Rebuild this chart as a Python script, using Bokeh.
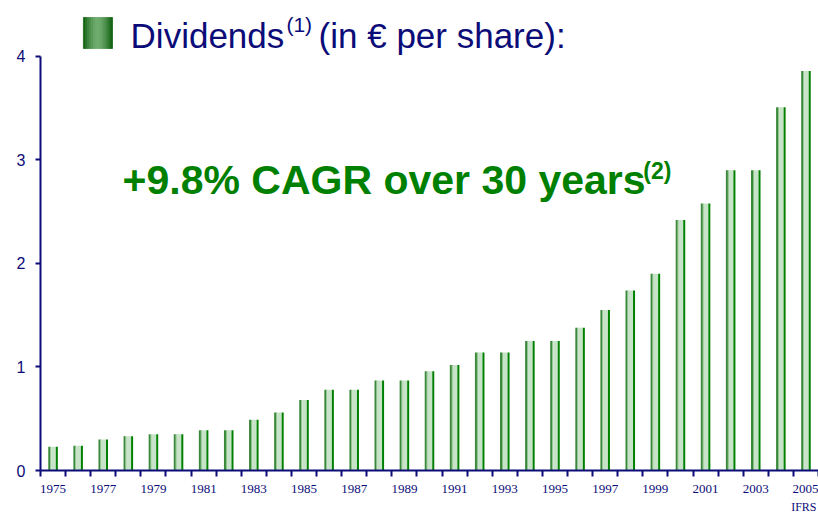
import numpy as np
from bokeh.plotting import figure
from bokeh.models import Range1d, FixedTicker, Title
from bokeh.core.properties import value
from bokeh.embed import file_html
from bokeh.resources import INLINE

# ---- data ----
years = list(range(1975, 2006))
dividends = [0.23, 0.24, 0.30, 0.33, 0.35, 0.35, 0.39, 0.39, 0.49, 0.56,
             0.68, 0.78, 0.78, 0.87, 0.87, 0.96, 1.02, 1.14, 1.14, 1.25,
             1.25, 1.38, 1.55, 1.74, 1.90, 2.42, 2.58, 2.90, 2.90, 3.51, 3.86]
y_ticks = [0, 1, 2, 3, 4]
x_tick_years = list(range(1975, 2006, 2))
title_text = "Dividends"
title_sup = "(1)"
title_rest = "(in \u20ac per share):"
cagr_text = "+9.8% CAGR over 30 years"
cagr_sup = "(2)"
ifrs_text = "IFRS"

NAVY = "#0c0c78"
GREEN = "#008000"

p = figure(frame_width=778, frame_height=470,
           x_range=Range1d(1974.5, 2005.5), y_range=Range1d(0, 4.541),
           output_backend="svg", toolbar_location=None,
           min_border_left=40, min_border_right=0,
           min_border_top=0, min_border_bottom=46)
p.outline_line_color = None
p.xgrid.visible = False
p.ygrid.visible = False
p.background_fill_color = "white"
p.border_fill_color = "white"

# bars as striped columns (imitating gradient fill)
yrs = np.array(years, dtype=float)
stripes = [(-0.19, -0.11, "#3a883a"),
           (-0.11, -0.07, "#86c086"),
           (-0.07, 0.11, "#c8e4c8"),
           (0.11, 0.19, GREEN)]
for lo, hi, col in stripes:
    p.vbar(x=yrs + (lo + hi) / 2, width=hi - lo, top=dividends, bottom=0,
           fill_color=col, line_color=None)

# axes
yax = p.yaxis[0]
yax.ticker = FixedTicker(ticks=y_ticks)
yax.bounds = (0, 4)
yax.axis_line_color = NAVY
yax.axis_line_width = 2
yax.major_tick_line_color = NAVY
yax.major_tick_line_width = 2
yax.major_tick_out = 5
yax.major_tick_in = 0
yax.minor_tick_line_color = None
yax.major_label_standoff = 10
yax.major_label_text_font = "Liberation Sans"
yax.major_label_text_font_size = "16px"
yax.major_label_text_color = NAVY

xax = p.xaxis[0]
xax.ticker = FixedTicker(ticks=x_tick_years,
                         minor_ticks=[y - 0.5 for y in years] + [years[-1] + 0.5])
xax.axis_line_color = NAVY
xax.axis_line_width = 2
xax.major_tick_line_color = None
xax.major_tick_out = 6
xax.major_tick_in = 0
xax.minor_tick_line_color = NAVY
xax.minor_tick_line_width = 2
xax.minor_tick_out = 6
xax.minor_tick_in = 0
xax.major_label_standoff = 8
xax.major_label_text_font = "Liberation Serif"
xax.major_label_text_font_size = "13px"
xax.major_label_text_color = NAVY

# IFRS note under the 2005 label
p.add_layout(Title(text=ifrs_text, align="right", text_font="Liberation Serif",
                   text_font_size="12px", text_font_style="normal",
                   text_color=NAVY, standoff=4, offset=2), "below")

# legend-like gradient square next to title
sq_x0, sq_x1 = 1976.21, 1977.37
sq_y0, sq_y1 = 4.077, 4.377
n = 14
edges = np.linspace(sq_x0, sq_x1, n + 1)
t = np.abs(np.linspace(-1, 1, n))
dark = np.array([0x16, 0x66, 0x16])
light = np.array([0x70, 0xae, 0x70])
cols = ["#%02x%02x%02x" % tuple((light + (dark - light) * v ** 1.5).astype(int)) for v in t]
p.quad(left=edges[:-1], right=edges[1:], bottom=sq_y0, top=sq_y1,
       fill_color=cols, line_color=cols, line_width=0.8)

# title
p.text(x=[1978.09], y=[4.203], text=[title_text], text_font=value("Liberation Sans"),
       text_font_size="35px", text_color=NAVY, text_baseline="alphabetic")
p.text(x=[1984.30], y=[4.305], text=[title_sup], text_font=value("Liberation Sans"),
       text_font_size="21px", text_color=NAVY, text_baseline="alphabetic")
p.text(x=[1985.58], y=[4.203], text=[title_rest], text_font=value("Liberation Sans"),
       text_font_size="35px", text_color=NAVY, text_baseline="alphabetic")

# CAGR annotation
p.text(x=[1977.77], y=[2.811], text=[cagr_text], text_font=value("Liberation Sans"),
       text_font_size="41px", text_font_style="bold", text_color=GREEN,
       text_baseline="alphabetic")
p.text(x=[1998.52], y=[2.889], text=[cagr_sup], text_font=value("Liberation Sans"),
       text_font_size="23px", text_font_style="bold", text_color=GREEN,
       text_baseline="alphabetic")

open("out.html", "w").write(file_html(p, INLINE))
